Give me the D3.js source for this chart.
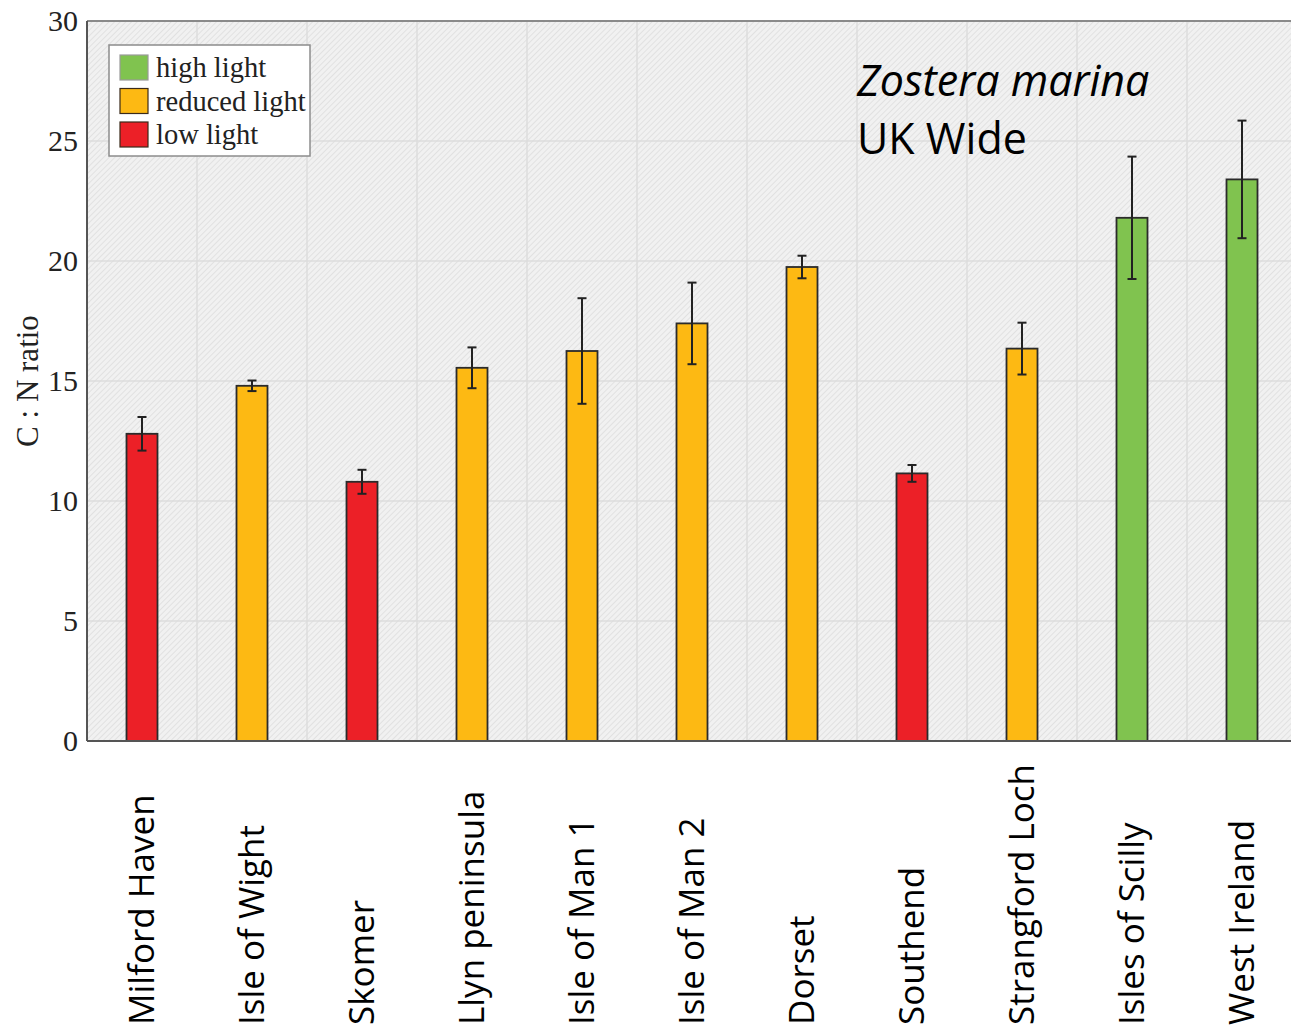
<!DOCTYPE html>
<html>
<head>
<meta charset="utf-8">
<script src="https://cdn.jsdelivr.net/npm/d3@7"></script>
<style>
  body { margin: 0; background: #fff; }
  svg { display: block; }
</style>
</head>
<body>
<svg id="chart" width="1291" height="1030"></svg>
<script>
// data
var sites = ["Milford Haven", "Isle of Wight", "Skomer", "Llyn peninsula", "Isle of Man 1",
             "Isle of Man 2", "Dorset", "Southend", "Strangford Loch", "Isles of Scilly", "West Ireland"];
var cnRatio = [12.8, 14.8, 10.8, 15.55, 16.25, 17.4, 19.75, 11.15, 16.35, 21.8, 23.4];
var cnError = [0.7, 0.22, 0.5, 0.85, 2.2, 1.7, 0.47, 0.35, 1.08, 2.55, 2.45];
var lightLevel = ["low", "reduced", "low", "reduced", "reduced", "reduced", "reduced", "low", "reduced", "high", "high"];
var legendKeys = ["high", "reduced", "low"];
var legendLabels = ["high light", "reduced light", "low light"];
var yTicks = [0, 5, 10, 15, 20, 25, 30];

var colors = { high: "#80c34f", reduced: "#fdb913", low: "#ec2027" };

var svg = d3.select("#chart");
var pLeft = 87, pTop = 21, pBottom = 741, pRight = 1297;

var x = d3.scaleBand().domain(sites).range([pLeft, pRight]).padding(0);
var y = d3.scaleLinear().domain([0, 30]).range([pBottom, pTop]);

// hatched background
var defs = svg.append("defs");
var pat = defs.append("pattern")
    .attr("id", "hatch")
    .attr("patternUnits", "userSpaceOnUse")
    .attr("width", 4).attr("height", 4)
    .attr("patternTransform", "rotate(45)");
pat.append("rect").attr("width", 4).attr("height", 4).attr("fill", "#f1f1f1");
pat.append("line").attr("x1", 0).attr("y1", 0).attr("x2", 0).attr("y2", 4)
    .attr("stroke", "#dedede").attr("stroke-width", 1.6);

svg.append("rect")
    .attr("x", pLeft).attr("y", pTop)
    .attr("width", pRight - pLeft).attr("height", pBottom - pTop)
    .attr("fill", "url(#hatch)");

// grid
svg.append("g").selectAll("line")
    .data(yTicks.slice(1, -1))
    .join("line")
    .attr("x1", pLeft).attr("x2", pRight)
    .attr("y1", function(d) { return y(d); }).attr("y2", function(d) { return y(d); })
    .attr("stroke", "#dcdcdc").attr("stroke-width", 1.5);

svg.append("g").selectAll("line")
    .data(sites.slice(1))
    .join("line")
    .attr("x1", function(d) { return x(d); }).attr("x2", function(d) { return x(d); })
    .attr("y1", pTop).attr("y2", pBottom)
    .attr("stroke", "#dcdcdc").attr("stroke-width", 1.5);

// bars
var barW = 31;
svg.append("g").selectAll("rect")
    .data(sites)
    .join("rect")
    .attr("x", function(d) { return x(d) + x.bandwidth() / 2 - barW / 2; })
    .attr("y", function(d, i) { return y(cnRatio[i]); })
    .attr("width", barW)
    .attr("height", function(d, i) { return y(0) - y(cnRatio[i]); })
    .attr("fill", function(d, i) { return colors[lightLevel[i]]; })
    .attr("stroke", "#2b2b2b").attr("stroke-width", 1.8);

// error bars
var eb = svg.append("g").attr("stroke", "#222").attr("stroke-width", 2);
sites.forEach(function(s, i) {
    var cx = x(s) + x.bandwidth() / 2;
    var y1 = y(cnRatio[i] + cnError[i]), y2 = y(cnRatio[i] - cnError[i]);
    eb.append("line").attr("x1", cx).attr("x2", cx).attr("y1", y1).attr("y2", y2);
    eb.append("line").attr("x1", cx - 4.5).attr("x2", cx + 4.5).attr("y1", y1).attr("y2", y1);
    eb.append("line").attr("x1", cx - 4.5).attr("x2", cx + 4.5).attr("y1", y2).attr("y2", y2);
});

// frame
svg.append("line").attr("x1", pLeft).attr("x2", pRight).attr("y1", pTop).attr("y2", pTop)
    .attr("stroke", "#8a8a8a").attr("stroke-width", 2);
svg.append("line").attr("x1", pLeft).attr("x2", pRight).attr("y1", pBottom).attr("y2", pBottom)
    .attr("stroke", "#555").attr("stroke-width", 2);
svg.append("line").attr("x1", pLeft).attr("x2", pLeft).attr("y1", pTop).attr("y2", pBottom)
    .attr("stroke", "#555").attr("stroke-width", 2);

// y axis labels
var yAxis = d3.axisLeft(y).tickValues(yTicks).tickSize(0).tickPadding(9);
var gy = svg.append("g").attr("transform", "translate(" + pLeft + ",0)").call(yAxis);
gy.select(".domain").remove();
gy.selectAll("text")
    .attr("font-family", "'Liberation Serif', serif")
    .attr("font-size", 30)
    .attr("fill", "#222");

svg.append("text")
    .attr("transform", "translate(38," + ((pTop + pBottom) / 2) + ") rotate(-90)")
    .attr("text-anchor", "middle")
    .attr("font-family", "'Liberation Serif', serif")
    .attr("font-size", 31)
    .attr("fill", "#222")
    .text("C : N ratio");

// x labels
svg.append("g").selectAll("text")
    .data(sites)
    .join("text")
    .attr("transform", function(d) {
        return "translate(" + (x(d) + x.bandwidth() / 2 + 12) + ",1025) rotate(-90)";
    })
    .attr("font-family", "'Open Sans', sans-serif")
    .attr("font-size", 35)
    .attr("fill", "#000")
    .text(function(d) { return d; });

// legend
var lg = svg.append("g");
lg.append("rect").attr("x", 109).attr("y", 45).attr("width", 201).attr("height", 111)
    .attr("fill", "#fff").attr("stroke", "#8c8c8c").attr("stroke-width", 1.5);
legendKeys.forEach(function(k, i) {
    var ry = 55 + i * 33.5;
    lg.append("rect").attr("x", 120).attr("y", ry).attr("width", 28).attr("height", 25)
        .attr("fill", colors[k])
        .attr("stroke", k === "high" ? "#9a9a9a" : "#3a2a1a").attr("stroke-width", 1.2);
    lg.append("text").attr("x", 156).attr("y", ry + 22)
        .attr("font-family", "'Liberation Serif', serif")
        .attr("font-size", 28.5)
        .attr("fill", "#222")
        .text(legendLabels[i]);
});

// annotation
svg.append("text").attr("x", 857).attr("y", 96)
    .attr("font-family", "'Open Sans', sans-serif")
    .attr("font-style", "italic")
    .attr("font-size", 43)
    .text("Zostera marina");
svg.append("text").attr("x", 857).attr("y", 154)
    .attr("font-family", "'Open Sans', sans-serif")
    .attr("font-size", 43)
    .text("UK Wide");
</script>
</body>
</html>
